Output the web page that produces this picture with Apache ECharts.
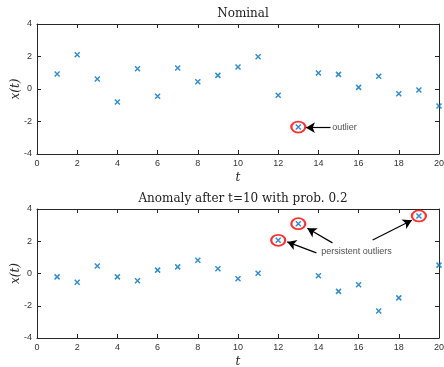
<!DOCTYPE html>
<html>
<head>
<meta charset="utf-8">
<script src="https://cdn.jsdelivr.net/npm/echarts@6/dist/echarts.min.js"></script>
<style>
  html, body { margin: 0; padding: 0; background: #fff; }
  #chart { width: 444px; height: 367px; }
</style>
</head>
<body>
<div id="chart"></div>
<script>
// time steps
const tValues = [1, 2, 3, 4, 5, 6, 7, 8, 9, 10, 11, 12, 13, 14, 15, 16, 17, 18, 19, 20]
// nominal signal
const nominalValues = [0.92, 2.11, 0.62, -0.80, 1.25, -0.45, 1.29, 0.45, 0.84, 1.35,
  1.99, -0.39, -2.34, 0.98, 0.90, 0.10, 0.78, -0.29, -0.06, -1.05]
// anomaly signal
const anomalyValues = [-0.21, -0.54, 0.47, -0.21, -0.45, 0.21, 0.41, 0.82, 0.29, -0.33,
  0.02, 2.06, 3.09, -0.14, -1.11, -0.70, -2.33, -1.51, 3.57, 0.52]
// outliers circled (t values)
const nominalOutliers = [13]
const anomalyOutliers = [12, 13, 19]
// annotation arrows [from, to] in data coords
const nominalArrows = [[[14.6, -2.38], [13.38, -2.38]]]
const anomalyArrows = [
  [[13.9, 1.28], [12.45, 1.96]],
  [[14.7, 1.9], [13.45, 2.8]],
  [[16.7, 2.08], [18.65, 3.3]]
]
const nominalNote = { text: 'outlier', at: [15.3, -2.38] }
const anomalyNote = { text: 'persistent outliers', at: [15.9, 1.38] }
const titles = ['Nominal', 'Anomaly after t=10 with prob. 0.2']
const yTicks = { min: -4, max: 4, interval: 2 }
const xTicks = { min: 0, max: 20, interval: 2 }

const blue = '#0072BD'
const axisColor = '#262626'
const crossPath = 'path://M0,0L10,10M10,0L0,10'

const chart = echarts.init(document.getElementById('chart'))

function pairs (vals) {
  return tValues.map((t, i) => [t, vals[i]])
}
function circled (vals, ts) {
  return ts.map(t => [t, vals[tValues.indexOf(t)]])
}

const grids = [
  { left: 37, right: 5, top: 24, height: 130, outerBoundsMode: 'none', containLabel: false },
  { left: 37, right: 5, top: 209, height: 129, outerBoundsMode: 'none', containLabel: false }
]

const line = { show: true, onZero: false, lineStyle: { color: axisColor, width: 1 } }
const tick = { inside: true, length: 4, lineStyle: { color: axisColor } }
const labelStyle = { fontFamily: 'Liberation Sans', fontSize: 9, color: '#333' }

const xAxes = []
const yAxes = []
grids.forEach((g, i) => {
  // bottom axis with labels
  xAxes.push({
    gridIndex: i, type: 'value', min: xTicks.min, max: xTicks.max, interval: xTicks.interval,
    position: 'bottom',
    name: 't', nameLocation: 'middle', nameGap: 18, nameMoveOverlap: false,
    nameTextStyle: { fontFamily: 'DejaVu Serif', fontStyle: 'italic', fontSize: 12, color: axisColor },
    axisLine: line,
    axisTick: tick,
    axisLabel: Object.assign({ margin: 5 }, labelStyle),
    splitLine: { show: false }
  })
  // top axis (ticks only)
  xAxes.push({
    gridIndex: i, type: 'value', min: xTicks.min, max: xTicks.max, interval: xTicks.interval,
    position: 'top',
    axisLine: line,
    axisTick: tick,
    axisLabel: { show: false },
    splitLine: { show: false }
  })
  yAxes.push({
    gridIndex: i, type: 'value', min: yTicks.min, max: yTicks.max, interval: yTicks.interval,
    position: 'left',
    name: 'x(t)', nameLocation: 'middle', nameGap: 15, nameRotate: 90, nameMoveOverlap: false,
    nameTextStyle: { fontFamily: 'DejaVu Serif', fontStyle: 'italic', fontSize: 12, color: axisColor },
    axisLine: line,
    axisTick: tick,
    axisLabel: Object.assign({ margin: 5 }, labelStyle),
    splitLine: { show: false }
  })
  yAxes.push({
    gridIndex: i, type: 'value', min: yTicks.min, max: yTicks.max, interval: yTicks.interval,
    position: 'right',
    axisLine: line,
    axisTick: tick,
    axisLabel: { show: false },
    splitLine: { show: false }
  })
})

const panels = [
  { vals: nominalValues, outl: nominalOutliers, arrows: nominalArrows, note: nominalNote },
  { vals: anomalyValues, outl: anomalyOutliers, arrows: anomalyArrows, note: anomalyNote }
]

const series = []
panels.forEach((p, i) => {
  const xi = i * 2
  const yi = i * 2
  series.push({
    type: 'scatter', xAxisIndex: xi, yAxisIndex: yi,
    symbol: crossPath, symbolSize: 5,
    itemStyle: { color: 'none', borderColor: blue, borderWidth: 1.5 },
    data: pairs(p.vals),
    silent: true
  })
  series.push({
    type: 'scatter', xAxisIndex: xi, yAxisIndex: yi,
    symbol: 'circle', symbolSize: [14, 11],
    itemStyle: { color: 'rgba(0,0,0,0)', borderColor: '#ff0000', borderWidth: 2 },
    data: circled(p.vals, p.outl),
    silent: true
  })
  series.push({
    type: 'scatter', xAxisIndex: xi, yAxisIndex: yi,
    symbolSize: 0,
    data: [p.note.at],
    label: {
      show: true, position: 'inside', formatter: p.note.text,
      fontFamily: 'Liberation Sans', fontSize: 9, color: '#222'
    },
    markLine: {
      silent: true,
      symbol: ['none', 'arrow'], symbolSize: [8, 9],
      lineStyle: { color: '#000', width: 1.2, type: 'solid' },
      label: { show: false },
      data: p.arrows.map(a => [{ coord: a[0] }, { coord: a[1] }])
    },
    silent: true
  })
})

chart.setOption({
  animation: false,
  title: [
    { text: titles[0], left: 238, top: 3, textAlign: 'center',
      textStyle: { fontFamily: 'DejaVu Serif', fontWeight: 'normal', fontSize: 12, color: '#222' } },
    { text: titles[1], left: 238, top: 188, textAlign: 'center',
      textStyle: { fontFamily: 'DejaVu Serif', fontWeight: 'normal', fontSize: 12, color: '#222' } }
  ],
  grid: grids,
  xAxis: xAxes,
  yAxis: yAxes,
  series: series
})
</script>
</body>
</html>
